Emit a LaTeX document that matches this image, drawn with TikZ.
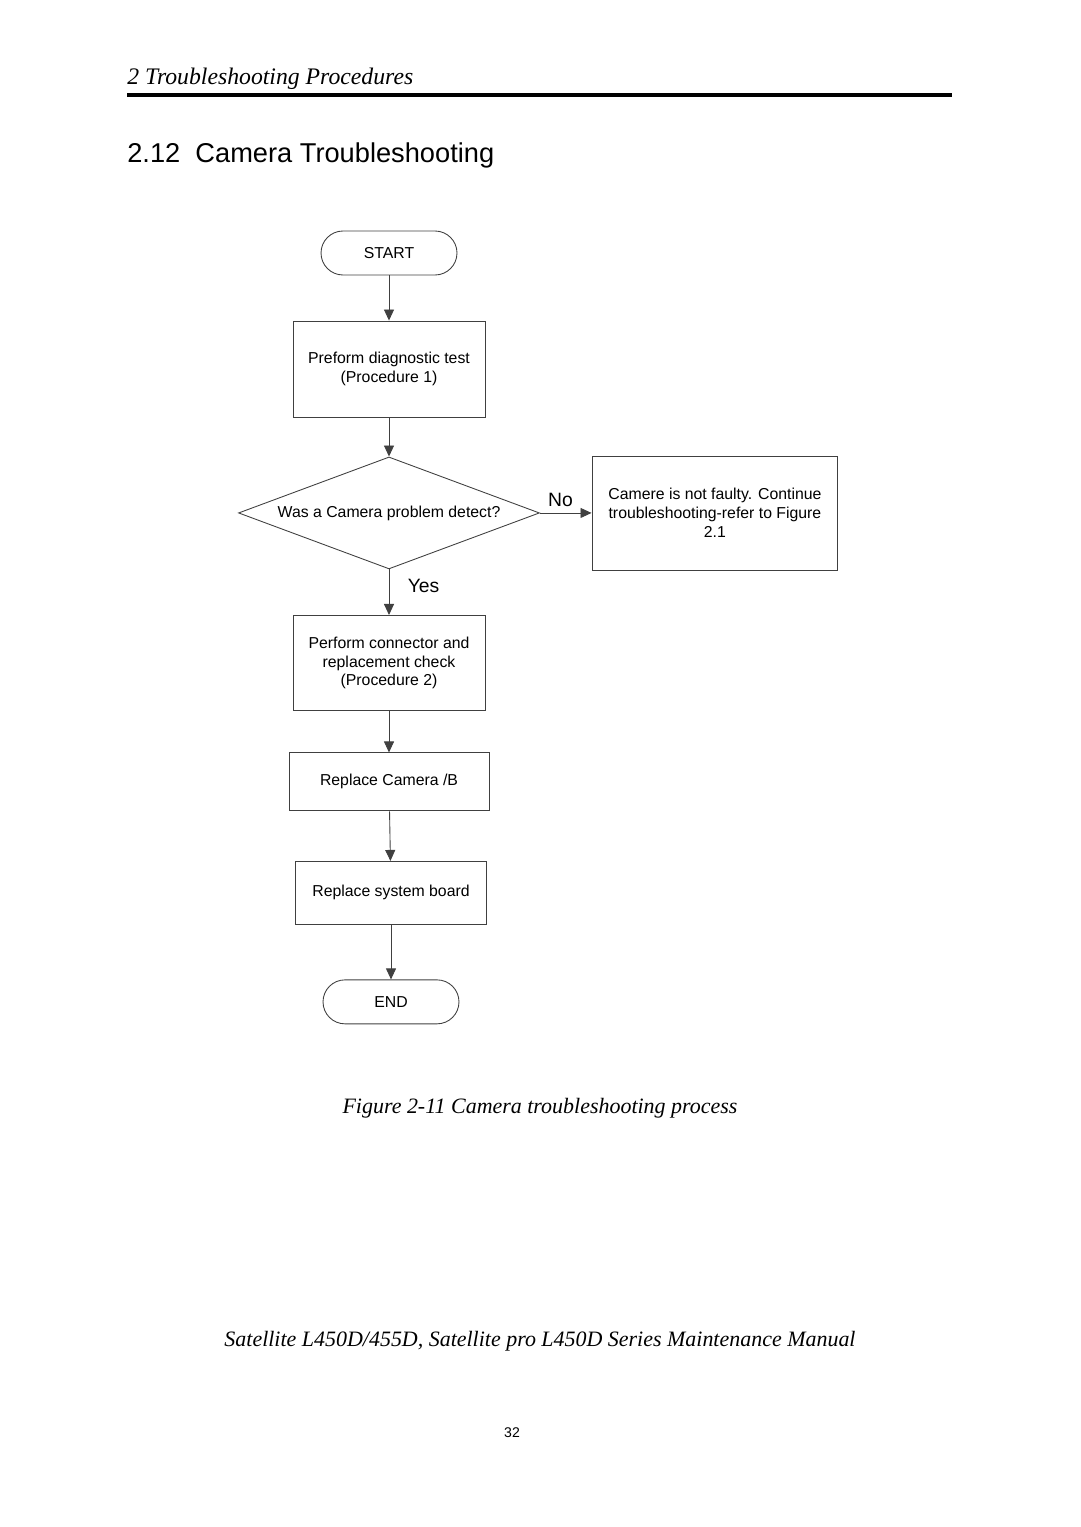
\documentclass[tikz,border=0pt]{standalone}
\usepackage{fontspec}
\setmainfont{Liberation Serif}
\setsansfont{Liberation Sans}
\usetikzlibrary{shapes.geometric,arrows.meta,positioning}

\tikzset{
  chart/.style={font=\sffamily\fontsize{9}{10.8}\selectfont, draw=black!75, line width=0.5pt, align=center, inner sep=2pt},
  terminal/.style={chart, rectangle, rounded corners=0.44cm, minimum width=2.72cm, minimum height=0.88cm},
  process/.style={chart, rectangle, minimum width=3.84cm, minimum height=1.92cm},
  decision/.style={chart, diamond, shape aspect=2.69, minimum width=6.02cm, minimum height=2.24cm, inner sep=0pt},
  flow/.style={draw=black!75, line width=0.5pt, -{Triangle[length=2.2mm,width=2mm]}},
  answer/.style={font=\sffamily\fontsize{11}{13}\selectfont}
}

\begin{document}
\begin{tikzpicture}[x=0.02cm, y=-0.02cm]
    \useasboundingbox (0,0) rectangle (1080,1527);

    \node[anchor=base west, inner sep=0pt, font=\itshape\fontsize{13.5}{16}\selectfont] (chapter) at (127,85) {2 Troubleshooting Procedures};
    \draw[line width=2.3pt] (127,95) -- (952,95);
    \node[anchor=west, font=\sffamily\fontsize{15.5}{19}\selectfont, inner sep=0pt] (section) at (127,155) {2.12\ \ Camera Troubleshooting};

    \node[terminal] (start) at (389,253) {START};

    \node[process, below of=start, node distance=2.32cm] (diagnostic) {Preform diagnostic test\\(Procedure 1)};

    \node[decision, below of=diagnostic, node distance=2.88cm] (detect) {Was a Camera problem detect?};

    \node[process, right of=detect, node distance=6.52cm, minimum width=4.92cm, minimum height=2.28cm] (notfaulty) {Camere is not faulty. Continue\\troubleshooting-refer to Figure\\2.1};

    \node[process, below of=detect, node distance=3.0cm, minimum height=1.9cm] (connector) {Perform connector and\\replacement check\\(Procedure 2)};

    \node[process, below of=connector, node distance=2.38cm, minimum width=4.0cm, minimum height=1.16cm] (camerab) {Replace Camera /B};

    \node[process, below of=camerab, node distance=2.22cm, xshift=0.04cm, minimum width=3.82cm, minimum height=1.26cm] (sysboard) {Replace system board};

    \node[terminal, below of=sysboard, node distance=2.18cm] (end) {END};

    \path (start) edge[flow] (diagnostic);
    \path (diagnostic) edge[flow] (detect);
    \path (detect) edge[flow] node[answer, above, pos=0.4] {No} (notfaulty);
    \path (detect) edge[flow] node[answer, right=0.25cm, pos=0.36] {Yes} (connector);
    \path (connector) edge[flow] (camerab);
    \path (camerab) edge[flow] (sysboard);
    \path (sysboard) edge[flow] (end);

    \node[font=\itshape\fontsize{12.5}{15}\selectfont] (caption) at (540,1108) {Figure 2-11 Camera troubleshooting process};
    \node[font=\itshape\fontsize{12.5}{15}\selectfont] (manual) at (540,1341) {Satellite L450D/455D, Satellite pro L450D Series Maintenance Manual};
    \node[font=\sffamily\fontsize{8}{10}\selectfont] (page) at (512,1433) {32};
\end{tikzpicture}
\end{document}
